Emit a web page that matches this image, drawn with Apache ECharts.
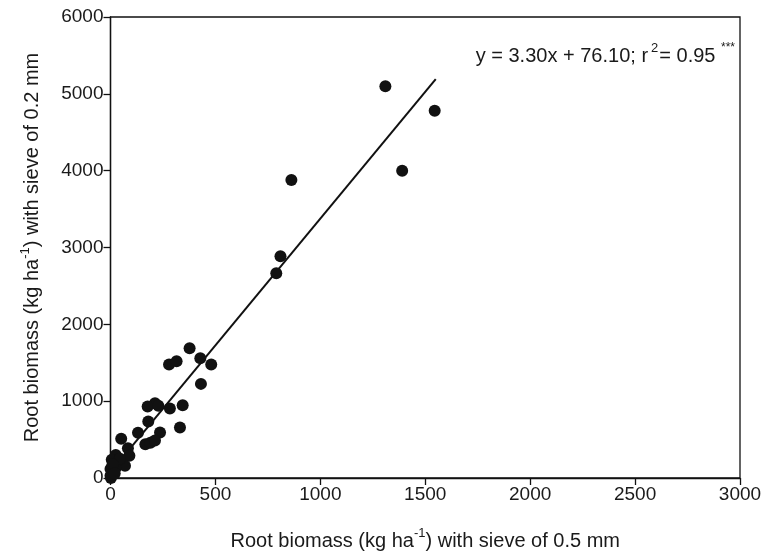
<!DOCTYPE html>
<html>
<head>
<meta charset="utf-8">
<title>Root biomass sieve comparison</title>
<script src="https://cdn.jsdelivr.net/npm/echarts@6/dist/echarts.min.js"></script>
<style>
  html, body { margin: 0; padding: 0; background: #fff; }
  #chart { width: 775px; height: 556px; }
</style>
</head>
<body>
<div id="chart"></div>
<script>
  // root biomass with 0.5 mm sieve (x) vs 0.2 mm sieve (y), kg/ha
  const sieve05 = [1545, 1390, 1310, 862, 810, 790,
    377, 428, 480, 279, 315, 431,
    212, 177, 228, 283, 344, 180, 131, 236, 331,
    166, 190, 212,
    51, 83, 90, 25, 6, 53, 30, 0, 0, 13, 37, 69, 2, 25, 45, 10, 20];
  const sieve02 = [4780, 4000, 5100, 3880, 2886, 2666,
    1689, 1559, 1477, 1477, 1520, 1225,
    974, 931, 939, 905, 948, 736, 590, 593, 658,
    440, 460, 489,
    511, 386, 290, 300, 238, 182, 160, 117, 30, 74, 225, 160, 0, 130, 250, 180, 60];

  // fitted line y = 3.30x + 76.10, drawn between these x values
  const fitX = [0, 1550];
  const slope = 3.30;
  const intercept = 76.10;

  const xTicks = [0, 500, 1000, 1500, 2000, 2500, 3000];
  const yTicks = [0, 1000, 2000, 3000, 4000, 5000, 6000];

  const points = sieve05.map((x, i) => [x, sieve02[i]]);
  const fitLine = fitX.map(x => [x, slope * x + intercept]);

  const chart = echarts.init(document.getElementById("chart"));

  const txt = "#1a1a1a";
  const font = "Liberation Sans, Arial, sans-serif";

  const axisCommon = {
    axisLine: { show: true, lineStyle: { color: "#111", width: 1.3 } },
    axisTick: { show: true, inside: false, length: 7, lineStyle: { color: "#111", width: 1.3 } },
    splitLine: { show: false },
    axisLabel: { color: txt, fontSize: 19, fontFamily: font, margin: 7, formatter: v => String(v) },
  };

  // axis title with a superscript -1
  const titleRich = {
    n: { fontSize: 20, color: txt, fontFamily: font, verticalAlign: "bottom", lineHeight: 24 },
    s: { fontSize: 13, color: txt, fontFamily: font, verticalAlign: "top", lineHeight: 24, padding: [0, 0, 11, 0] },
  };

  chart.setOption({
    animation: false,
    backgroundColor: "#fff",
    grid: {
      left: 110.5,
      right: 35,
      top: 17,
      bottom: 75,
      show: true,
      borderColor: "#111",
      borderWidth: 1.3,
    },
    xAxis: {
      type: "value",
      min: xTicks[0],
      max: xTicks[xTicks.length - 1],
      interval: xTicks[1] - xTicks[0],
      ...axisCommon,
      name: "{n|Root biomass (kg ha}{s|-1}{n|) with sieve of 0.5 mm}",
      nameLocation: "middle",
      nameGap: 49,
      nameTextStyle: { rich: titleRich },
    },
    yAxis: {
      type: "value",
      min: yTicks[0],
      max: yTicks[yTicks.length - 1],
      interval: yTicks[1] - yTicks[0],
      ...axisCommon,
      name: "{n|Root biomass (kg ha}{s|-1}{n|) with sieve of 0.2 mm}",
      nameLocation: "middle",
      nameGap: 68,
      nameTextStyle: { rich: titleRich },
    },
    graphic: [
      {
        type: "text",
        right: 40,
        top: 42,
        style: {
          text: "{n|y = 3.30x + 76.10; r}{s|2}{n|= 0.95 }{a|***}",
          rich: {
            n: { fontSize: 20, fill: txt, fontFamily: font, verticalAlign: "bottom", lineHeight: 24 },
            s: { fontSize: 13, fill: txt, fontFamily: font, verticalAlign: "top", lineHeight: 24, padding: [0, 1, 10, 3] },
            a: { fontSize: 12, fill: txt, fontFamily: font, verticalAlign: "top", lineHeight: 24, padding: [0, 0, 10, 0] },
          },
        },
      },
    ],
    series: [
      {
        type: "line",
        data: fitLine,
        symbol: "none",
        lineStyle: { color: "#111", width: 2 },
        z: 2,
      },
      {
        type: "scatter",
        data: points,
        symbol: "circle",
        symbolSize: 12,
        itemStyle: { color: "#111", opacity: 1 },
        z: 3,
      },
    ],
  });

  window.addEventListener("resize", () => chart.resize());
</script>
</body>
</html>
